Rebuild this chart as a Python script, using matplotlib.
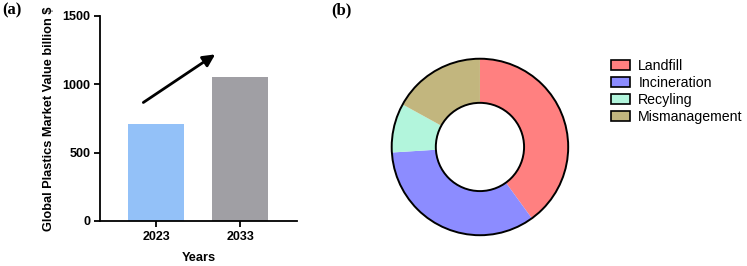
import numpy as np
import matplotlib.pyplot as plt

plt.rcParams['font.family'] = ['Liberation Sans', 'DejaVu Sans']

# bar chart data
years = ['2023', '2033']
market_value = [710, 1050]
bar_colors = ['#93C1F8', '#A09FA4']

# donut data
waste_labels = ['Landfill', 'Incineration', 'Recyling', 'Mismanagement']
waste_share = [40, 34, 9, 17]
waste_colors = ['#FF8080', '#8C8CFF', '#B2F5DC', '#C2B67E']

fig = plt.figure(figsize=(7.47, 2.66), dpi=100)

# (a) bar chart
ax = fig.add_axes([0.134, 0.170, 0.264, 0.770])
x = np.arange(len(years))
ax.bar(x, market_value, width=0.667, color=bar_colors)
ax.set_xlim(-0.667, 1.68)
ax.set_ylim(0, 1500)
ax.set_yticks([0, 500, 1000, 1500])
ax.set_xticks(x)
ax.set_xticklabels(years)
for s in ['top', 'right']:
    ax.spines[s].set_visible(False)
for s in ['left', 'bottom']:
    ax.spines[s].set_linewidth(1.3)
ax.tick_params(width=1.3, length=4, labelsize=9, pad=3)
for lab in ax.get_xticklabels() + ax.get_yticklabels():
    lab.set_fontweight('bold')
ax.set_ylabel('Global Plastics Market Value billion $', fontsize=9.2,
              fontweight='bold', labelpad=5)
ax.set_xlabel('Years', fontsize=9.2, fontweight='bold', labelpad=7)
ax.annotate('', xy=(0.73, 1230), xytext=(-0.18, 855),
            arrowprops=dict(arrowstyle='-|>', color='black', lw=2,
                            mutation_scale=18))

# (b) donut chart
ax2 = fig.add_axes([0.522, 0.109, 0.241, 0.677])
wedges, _ = ax2.pie(waste_share, colors=waste_colors, startangle=90,
                    counterclock=False, radius=1,
                    wedgeprops=dict(width=0.5, edgecolor='none'))
# outer and inner outlines
ax2.add_patch(plt.Circle((0, 0), 1, fill=False, ec='black', lw=1.4))
ax2.add_patch(plt.Circle((0, 0), 0.5, fill=False, ec='black', lw=1.4))
ax2.set_xlim(-1.02, 1.02)
ax2.set_ylim(-1.02, 1.02)
ax2.set_aspect('equal')
ax2.axis('off')

handles = [plt.Rectangle((0, 0), 1, 1, fc=c, ec='black', lw=1.2) for c in waste_colors]
fig.legend(handles, waste_labels, loc='upper left', bbox_to_anchor=(0.810, 0.80),
           frameon=False, fontsize=10.2, handlelength=1.35, handleheight=0.7,
           handletextpad=0.6, labelspacing=0.22, borderaxespad=0)

fig.text(0.003, 0.96, '(a)', family='Liberation Serif', fontweight='bold',
         fontsize=12, va='center')
fig.text(0.443, 0.96, '(b)', family='Liberation Serif', fontweight='bold',
         fontsize=12, va='center')

plt.savefig('out.png', dpi=100)
plt.close()
